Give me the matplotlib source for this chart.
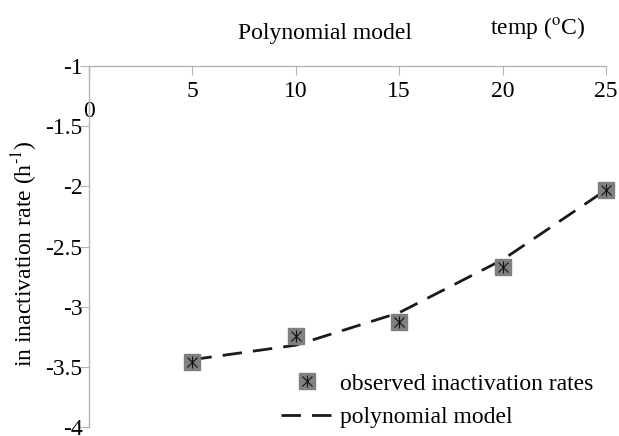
import numpy as np
import matplotlib
matplotlib.use("Agg")
from matplotlib import pyplot as plt
from matplotlib.transforms import ScaledTranslation

plt.rcParams['font.family'] = ['Liberation Serif', 'DejaVu Serif']
plt.rcParams['mathtext.fontset'] = 'stix'
plt.rcParams['axes.unicode_minus'] = False

temp      = [5, 10, 15, 20, 25]
observed  = [-3.46, -3.24, -3.13, -2.67, -2.03]
model     = [-3.44, -3.32, -3.05, -2.61, -2.03]
xticks    = [0, 5, 10, 15, 20, 25]
yticks    = [-1, -1.5, -2, -2.5, -3, -3.5, -4]
ytlabels  = ['-1', '-1.5', '-2', '-2.5', '-3', '-3.5', '-4']

fs = 17
axcol = '#b4b4b4'

fig = plt.figure(figsize=(6.19, 4.36), dpi=100)
ax = fig.add_axes([89/619, 9/436, 517/619, 361/436])

ln, = ax.plot(temp, model, color='#1a1a1a', lw=2.0, ls=(0, (7, 4)), zorder=2)
sq, = ax.plot(temp, observed, ls='none', marker='s', ms=11.5, mfc='#808080',
              mec='#808080', zorder=3, clip_on=False)
mx, = ax.plot(temp, observed, ls='none', marker='x', ms=6.5, mec='#111111',
              mew=0.8, zorder=4, clip_on=False)
mv, = ax.plot(temp, observed, ls='none', marker='|', ms=8, mec='#111111',
              mew=0.8, zorder=4, clip_on=False)

ax.set_xlim(0, 25)
ax.set_ylim(-4, -1)
ax.spines['top'].set_visible(False)
ax.spines['right'].set_visible(False)
ax.spines['bottom'].set_position(('data', -1))
for s in ['left', 'bottom']:
    ax.spines[s].set_color(axcol)
    ax.spines[s].set_linewidth(1.0)

ax.set_xticks(xticks)
ax.set_xticklabels([str(t) for t in xticks])
ax.set_yticks(yticks)
ax.set_yticklabels(ytlabels)
ax.tick_params(axis='x', direction='out', length=6.5, color=axcol, pad=4, labelsize=fs)
ax.tick_params(axis='y', direction='out', length=6.5, color=axcol, pad=-2, labelsize=fs)

# the "0" label sits lower, beside the left axis
lab0 = ax.get_xticklabels()[0]
lab0.set_transform(lab0.get_transform() + ScaledTranslation(0, -20/100, fig.dpi_scale_trans))

ax.set_ylabel('in inactivation rate (h$^{\\text{-1}}$)', fontsize=fs)
ax.yaxis.set_label_coords(-0.095, 0.48)

fig.text(325/619, 1-33/436, 'Polynomial model', fontsize=fs, ha='center', va='center')
fig.text(538/619, 1-28/436, 'temp ($^{\\mathrm{o}}$C)', fontsize=fs, ha='center', va='center')

ax.legend([(sq, mx, mv), ln], ['observed inactivation rates', 'polynomial model'],
          loc='upper left', bbox_to_anchor=(281/619, 1-373/436),
          bbox_transform=fig.transFigure, frameon=False, fontsize=fs,
          handlelength=2.16, handletextpad=0.34, borderpad=0, borderaxespad=0,
          labelspacing=0.5)

fig.savefig('out.png', dpi=100)
